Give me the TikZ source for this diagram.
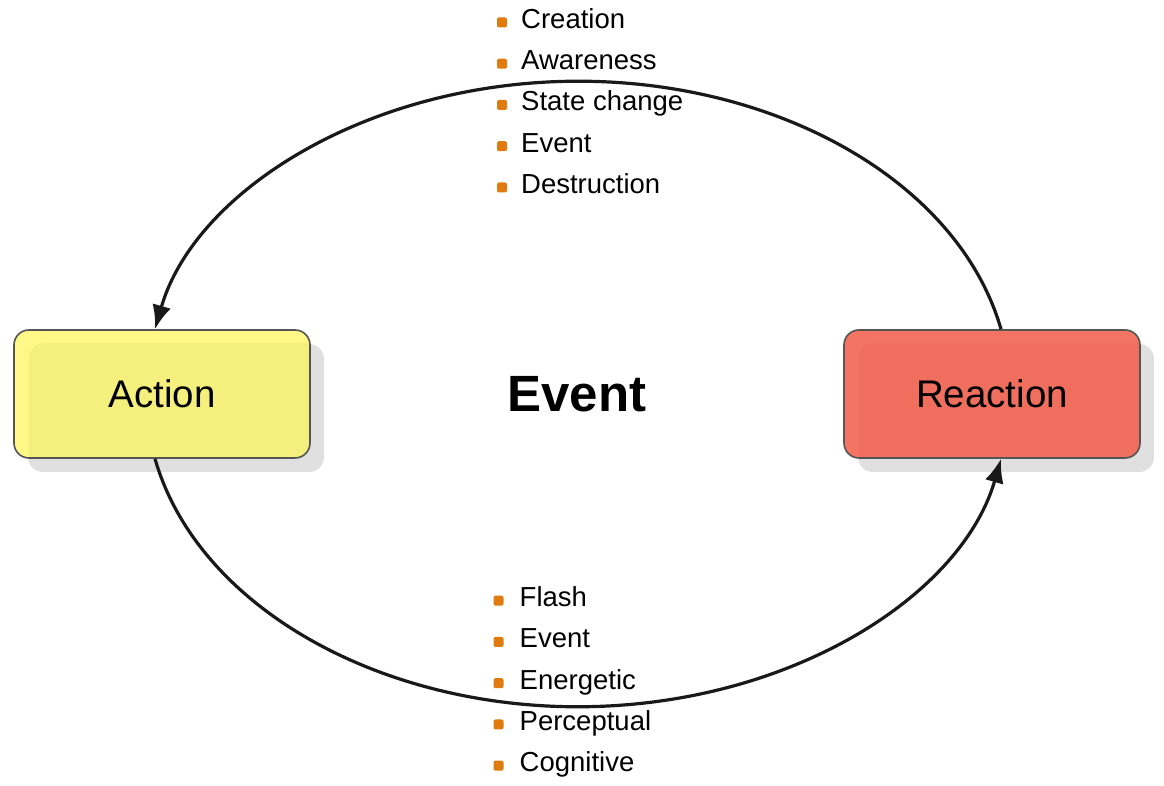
\documentclass[tikz,border=0pt]{standalone}
\usepackage{fontspec}
\setmainfont{Liberation Sans}
\usetikzlibrary{arrows.meta,shadows}
\definecolor{yelout}{HTML}{FFF886}
\definecolor{yelin}{HTML}{F5EF7D}
\definecolor{redout}{HTML}{F47464}
\definecolor{redin}{HTML}{EF6E5E}
\definecolor{bordergray}{HTML}{555555}
\definecolor{shadowgray}{HTML}{E0E0E0}
\definecolor{bulletorange}{HTML}{E07B10}
\tikzset{
  statebox/.style={draw=bordergray, line width=1.6pt, rounded corners=15pt,
    minimum width=296pt, minimum height=128pt, inner sep=0pt,
    font=\fontsize{38.5}{40}\selectfont,
    drop shadow={shadow xshift=14pt, shadow yshift=-14pt, fill=shadowgray, opacity=1, draw=none}},
  innerfill/.style={path picture={\fill[#1, rounded corners=15pt]
      ([xshift=15pt,yshift=-13pt]path picture bounding box.north west) rectangle
      ([xshift=15pt,yshift=-13pt]path picture bounding box.south east);}},
  cyc/.style={line width=3.2pt, draw=black!90, -{Latex[length=24pt,width=19pt]}},
  bul/.style={fill=bulletorange, rounded corners=2pt, minimum size=10pt, inner sep=0pt},
  itemtext/.style={anchor=base west, inner sep=0pt, font=\fontsize{27.5}{30}\selectfont}
}
\begin{document}
\begin{tikzpicture}[x=1pt,y=1pt]
\useasboundingbox (0,0) rectangle (1164,786);
\fill[white] (0,0) rectangle (1164,786);

\node[statebox, fill=yelout, innerfill=yelin] (action) at (162,392) {Action};
\node[statebox, fill=redout, innerfill=redin] (reaction) at (992,392) {Reaction};
\node[font=\fontsize{51}{56}\selectfont\bfseries, inner sep=0pt] (event) at (577,392) {Event};

\draw[cyc] ([xshift=9pt]reaction.north) arc[start angle=11.7, end angle=168.3, x radius=432, y radius=311];
\draw[cyc] ([xshift=-7pt]action.south) arc[start angle=191.7, end angle=348.3, x radius=432, y radius=311];

% top list
\node[bul] (tb1) at (502,763.5) {};
\node[itemtext] (tt1) at (521,757.5) {Creation};
\node[bul] (tb2) at (502,722.25) {};
\node[itemtext] (tt2) at (521,716.25) {Awareness};
\node[bul] (tb3) at (502,681) {};
\node[itemtext] (tt3) at (521,675) {State change};
\node[bul] (tb4) at (502,639.75) {};
\node[itemtext] (tt4) at (521,633.75) {Event};
\node[bul] (tb5) at (502,598.5) {};
\node[itemtext] (tt5) at (521,592.5) {Destruction};

% bottom list
\node[bul] (bb1) at (498.5,185.3) {};
\node[itemtext] (bt1) at (519.5,179.3) {Flash};
\node[bul] (bb2) at (498.5,144.05) {};
\node[itemtext] (bt2) at (519.5,138.05) {Event};
\node[bul] (bb3) at (498.5,102.8) {};
\node[itemtext] (bt3) at (519.5,96.8) {Energetic};
\node[bul] (bb4) at (498.5,61.55) {};
\node[itemtext] (bt4) at (519.5,55.55) {Perceptual};
\node[bul] (bb5) at (498.5,20.3) {};
\node[itemtext] (bt5) at (519.5,14.3) {Cognitive};
\end{tikzpicture}
\end{document}
